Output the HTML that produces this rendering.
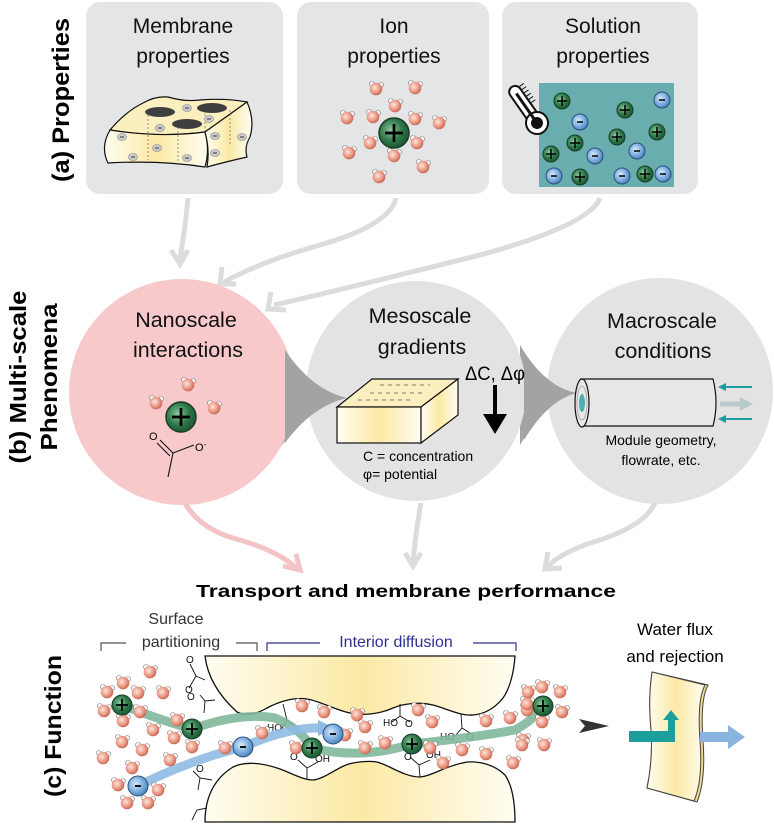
<!DOCTYPE html>
<html><head><meta charset="utf-8"><style>
html,body{margin:0;padding:0;background:#fff;}
svg{display:block;font-family:"Liberation Sans",sans-serif;}
</style></head><body>
<svg width="774" height="827" viewBox="0 0 774 827" xmlns="http://www.w3.org/2000/svg">
<defs>
<radialGradient id="gc" cx="0.4" cy="0.4" r="0.6"><stop offset="0" stop-color="#8fc9a3"/><stop offset="0.6" stop-color="#2f7a4a"/><stop offset="1" stop-color="#1d5a34"/></radialGradient>
<radialGradient id="bc" cx="0.4" cy="0.4" r="0.6"><stop offset="0" stop-color="#d8eafa"/><stop offset="0.6" stop-color="#7fb0e0"/><stop offset="1" stop-color="#4f86c0"/></radialGradient>
<radialGradient id="wc" cx="0.4" cy="0.4" r="0.6"><stop offset="0" stop-color="#fde6de"/><stop offset="0.7" stop-color="#e8917c"/><stop offset="1" stop-color="#c86a58"/></radialGradient>
<linearGradient id="yg" x1="0" x2="1" y1="0" y2="0"><stop offset="0" stop-color="#fffdf2"/><stop offset="0.5" stop-color="#fbe9a4"/><stop offset="1" stop-color="#fffdf2"/></linearGradient>
<g id="w"><circle cx="-4" cy="-5" r="2.5" fill="#fff" stroke="#777" stroke-width="0.6"/><circle cx="5" cy="-4" r="2.5" fill="#fff" stroke="#777" stroke-width="0.6"/><circle r="6.3" fill="url(#wc)"/></g>
<g id="cp"><circle r="10" fill="url(#gc)" stroke="#1a3d26" stroke-width="1"/><path d="M-6 0H6M0 -6V6" stroke="#000" stroke-width="1.8"/></g>
<g id="cs"><circle r="8" fill="url(#gc)" stroke="#1a3d26" stroke-width="1"/><path d="M-5 0H5M0 -5V5" stroke="#000" stroke-width="1.5"/></g>
<g id="an"><circle r="10" fill="url(#bc)" stroke="#2b4f7a" stroke-width="1"/><path d="M-3 0H3" stroke="#000" stroke-width="1.8"/></g>
<g id="as"><circle r="8" fill="url(#bc)" stroke="#2b4f7a" stroke-width="1"/><path d="M-3 0H3" stroke="#000" stroke-width="1.5"/></g>
<g id="mm"><ellipse rx="4.5" ry="3.5" fill="#ccc" stroke="#888" stroke-width="0.6"/><path d="M-2 0H2" stroke="#333" stroke-width="1"/></g>
</defs>

<!-- (a) -->
<text transform="translate(69,100) rotate(-90)" text-anchor="middle" font-weight="bold" font-size="24" textLength="164" lengthAdjust="spacingAndGlyphs">(a) Properties</text>
<rect x="86" y="2" width="197" height="192" rx="14" fill="#e4e5e7"/>
<rect x="297" y="2" width="192" height="192" rx="14" fill="#e4e5e7"/>
<rect x="502" y="2" width="196" height="192" rx="14" fill="#e4e5e7"/>
<g font-size="21" text-anchor="middle" fill="#111">
<text x="183" y="33">Membrane</text><text x="183" y="63">properties</text>
<text x="394" y="33">Ion</text><text x="394" y="63">properties</text>
<text x="603" y="33">Solution</text><text x="603" y="63">properties</text>
</g>
<!-- membrane block -->
<g stroke="#111" stroke-width="1.2" fill="url(#yg)">
<path d="M110 130 Q125 112 143 103 Q155 96 168 97 Q185 102 200 100 Q225 98 247 102 L205 132 Q160 138 110 130Z" fill="#fbefbf"/>
<path d="M110 130 Q160 138 205 132 Q210 150 205 167 Q160 160 108 163 Q100 147 110 130Z"/>
<path d="M205 132 L247 102 Q255 120 250 137 Q244 147 247 157 Q225 162 207 167 Q210 150 205 132Z"/>
</g>
<g stroke="#555" stroke-width="0.6" stroke-dasharray="2 2"><path d="M148 115V160M178 127V165M205 110V132M230 110V145"/></g>
<ellipse cx="160" cy="112" rx="15" ry="5" fill="#3f3f3f"/><ellipse cx="212" cy="108" rx="15" ry="5" fill="#3f3f3f"/><ellipse cx="187" cy="124" rx="15" ry="5" fill="#3f3f3f"/>
<use href="#mm" x="187" y="108"/><use href="#mm" x="209" y="119"/><use href="#mm" x="160" y="128"/><use href="#mm" x="122" y="137"/><use href="#mm" x="157" y="148"/><use href="#mm" x="133" y="157"/><use href="#mm" x="187" y="158"/><use href="#mm" x="215" y="136"/><use href="#mm" x="242" y="137"/><use href="#mm" x="215" y="153"/>
<!-- ion cluster -->
<g>
<use href="#w" x="376" y="89"/><use href="#w" x="415" y="88"/><use href="#w" x="395" y="106"/><use href="#w" x="347" y="118"/><use href="#w" x="373" y="117"/><use href="#w" x="415" y="119"/><use href="#w" x="439" y="123"/><use href="#w" x="370" y="143"/><use href="#w" x="417" y="143"/><use href="#w" x="349" y="153"/><use href="#w" x="394" y="156"/><use href="#w" x="423" y="167"/><use href="#w" x="379" y="177"/>
<g transform="translate(394,133) scale(1.5)"><use href="#cp"/></g>
</g>
<!-- solution -->
<rect x="539" y="83" width="135" height="104" fill="#6aadae"/>
<g transform="translate(537,123) rotate(-35)">
<rect x="-6" y="-44" width="12" height="40" rx="6" fill="#fff" stroke="#111" stroke-width="2"/>
<circle r="11" fill="#fff" stroke="#111" stroke-width="2"/><circle r="6" fill="#111"/><rect x="-1.5" y="-36" width="3" height="32" fill="#111"/>
<path d="M7 -40h5M7 -36h5M7 -32h5M7 -28h5M7 -24h5M7 -20h5" stroke="#111" stroke-width="1"/>
</g>
<use href="#cs" x="562" y="101"/><use href="#cs" x="625" y="110"/><use href="#cs" x="575" y="143"/><use href="#cs" x="617" y="137"/><use href="#cs" x="657" y="132"/><use href="#cs" x="551" y="154"/><use href="#cs" x="580" y="177"/><use href="#cs" x="645" y="174"/>
<use href="#as" x="580" y="122"/><use href="#as" x="662" y="100"/><use href="#as" x="595" y="156"/><use href="#as" x="637" y="151"/><use href="#as" x="554" y="176"/><use href="#as" x="622" y="176"/><use href="#as" x="663" y="174"/>

<!-- arrows a->b -->
<g fill="none" stroke="#dcdcdc" stroke-width="5">
<path d="M188 198 Q185 230 180 258"/>
<path d="M396 198 Q390 225 320 245 Q260 262 224 282"/>
<path d="M600 198 Q590 225 480 255 Q340 290 274 305"/>
</g>
<g fill="none" stroke="#dcdcdc" stroke-width="5" stroke-linejoin="miter">
<path d="M171 250 L180 264 L188 250"/>
<path d="M222 267 L220 284 L236 284"/>
<path d="M271 292 L268 309 L286 310"/>
</g>

<!-- (b) -->
<text transform="translate(26,377) rotate(-90)" text-anchor="middle" font-weight="bold" font-size="23" textLength="173" lengthAdjust="spacingAndGlyphs">(b) Multi-scale</text>
<text transform="translate(57,377) rotate(-90)" text-anchor="middle" font-weight="bold" font-size="23" textLength="147" lengthAdjust="spacingAndGlyphs">Phenomena</text>
<path d="M280 345 Q310 390 347 398 Q310 405 280 448Z" fill="#a3a3a3"/>
<path d="M520 345 Q545 388 577 393 Q545 400 520 445Z" fill="#a3a3a3"/>
<circle cx="182" cy="392" r="113" fill="#f7c9cb"/>
<circle cx="416" cy="391" r="110" fill="#e3e3e4"/>
<circle cx="660" cy="391" r="113" fill="#e3e3e4"/>
<path d="M285 350 Q312 390 347 398 Q312 406 285 443" fill="#a3a3a3"/>
<path d="M524 352 Q548 388 577 393 Q548 400 524 440" fill="#a3a3a3"/>
<g font-size="21.5" text-anchor="middle" fill="#111">
<text x="186" y="327">Nanoscale</text><text x="188" y="357">interactions</text>
<text x="420" y="323">Mesoscale</text><text x="422" y="354">gradients</text>
<text x="662" y="328">Macroscale</text><text x="663" y="358">conditions</text>
</g>
<!-- nano -->
<use href="#w" x="188" y="385"/><use href="#w" x="156" y="403"/><use href="#w" x="214" y="408"/>
<g transform="translate(181,417) scale(1.5)"><use href="#cp"/></g>
<path d="M168 477 L173 453 L194 445 M173 453 L160 440 M170 456 L157 443" stroke="#111" stroke-width="1.1" fill="none"/>
<text x="149" y="440" font-size="11">O</text><text x="195" y="451" font-size="11">O<tspan dy="-4" font-size="8">-</tspan></text>
<!-- meso box -->
<path d="M337 407 L372 379 L458 379 L421 407Z" fill="#fbefbf" stroke="#111" stroke-width="1.2"/>
<rect x="337" y="407" width="84" height="36" fill="url(#yg)" stroke="#111" stroke-width="1.2"/>
<path d="M421 407 L458 379 L458 415 L421 443Z" fill="url(#yg)" stroke="#111" stroke-width="1.2"/>
<path d="M380 385h50M370 393h55M358 400h55" stroke="#555" stroke-width="0.8" stroke-dasharray="4 4"/>
<text x="465" y="380" font-size="19" textLength="60" lengthAdjust="spacingAndGlyphs">ΔC, Δφ</text>
<path d="M495 385V418" stroke="#000" stroke-width="4"/><path d="M483 414 L507 414 L495 434Z" fill="#000"/>
<text x="363" y="461" font-size="14">C = concentration</text>
<text x="363" y="479" font-size="14">φ= potential</text>
<!-- macro cylinder -->
<path d="M580 379 L713 379 Q719 403 713 426 L580 426" fill="#e8e8e8" stroke="#111" stroke-width="1.2"/>
<ellipse cx="582" cy="403" rx="7" ry="24" fill="#e8e8e8" stroke="#111" stroke-width="1.2"/>
<ellipse cx="582" cy="403" rx="5" ry="17" fill="none" stroke="#888" stroke-width="0.6"/>
<ellipse cx="582" cy="403" rx="3" ry="9" fill="#4bb0b0"/>
<path d="M752 387H722M752 419H722" stroke="#1c9e9c" stroke-width="2"/>
<path d="M726 383 L718 387 L726 391Z M726 415 L718 419 L726 423Z" fill="#1c9e9c"/>
<path d="M720 404H742" stroke="#b9c9cc" stroke-width="5"/><path d="M740 397 L753 404 L740 411Z" fill="#b9c9cc"/>
<text x="661" y="445" font-size="14" text-anchor="middle">Module geometry,</text>
<text x="661" y="465" font-size="14" text-anchor="middle">flowrate, etc.</text>

<!-- arrows b->c -->
<path d="M185 503 Q200 530 240 540 Q280 552 296 568" fill="none" stroke="#f4c3c5" stroke-width="5"/>
<path d="M283 566 L300 570 L296 554" fill="none" stroke="#f4c3c5" stroke-width="5"/>
<g fill="none" stroke="#dcdcdc" stroke-width="5">
<path d="M421 503 Q416 530 413 562"/><path d="M405 553 L413 566 L421 553"/>
<path d="M655 503 Q645 525 600 540 Q565 550 548 566"/><path d="M548 552 L545 569 L562 568"/>
</g>
<text x="406" y="597" font-size="17.5" font-weight="bold" text-anchor="middle" textLength="420" lengthAdjust="spacingAndGlyphs">Transport and membrane performance</text>

<!-- (c) -->
<text transform="translate(61,726) rotate(-90)" text-anchor="middle" font-weight="bold" font-size="23" textLength="142" lengthAdjust="spacingAndGlyphs">(c) Function</text>
<g font-size="16" text-anchor="middle">
<text x="176" y="624" fill="#333">Surface</text>
<text x="181" y="647" fill="#333">partitioning</text>
<text x="396" y="647" fill="#2e3192">Interior diffusion</text>
</g>
<path d="M101 651V643H126M236 643H257V651" fill="none" stroke="#555" stroke-width="1.2"/>
<path d="M267 651V643H320M473 643H516V651" fill="none" stroke="#2e3192" stroke-width="1.2"/>
<!-- membrane blocks -->
<path d="M205 656 C207 673 215 692 237 712 C245 716 255 715 267 708 C280 701 295 697 307 699 C320 701 335 710 350 713 C362 716 380 714 393 708 C405 703 420 702 433 705 C445 708 460 716 473 715 C485 714 495 708 503 698 C510 688 514 672 515 656Z" fill="url(#yg)" stroke="#111" stroke-width="1.3"/>
<path d="M205 822 C205 800 212 780 233 767 C245 761 262 763 277 768 C290 772 302 780 313 780 C325 779 340 765 353 763 C365 761 375 761 380 763 C390 766 405 777 420 777 C432 776 445 766 467 762 C480 761 495 765 505 775 C512 785 515 800 515 822Z" fill="url(#yg)" stroke="#111" stroke-width="1.3"/>
<!-- COOH groups -->
<g stroke="#111" stroke-width="0.9" fill="none">
<path d="M205 680 L196 676 M196 676 L190 664 M196 676 L189 688"/>
<path d="M215 700 L205 701 L200 695 M205 701 L204 713"/>
<path d="M212 780 L200 778 L193 771 M200 778 L198 790"/>
<path d="M207 808 L197 810 L192 820"/>
<path d="M283 704 L287 720 L281 730 M287 720 L296 728"/>
<path d="M307 780 L307 768 L298 760 M307 768 L318 762"/>
<path d="M400 704 L400 716 L392 722 M400 716 L410 722"/>
<path d="M420 777 L419 765 L410 757 M419 765 L430 760"/>
<path d="M461 714 L462 728 L455 736 M462 728 L470 733"/>
</g>
<g font-size="10" fill="#111"><text x="186" y="663">O</text><text x="185" y="693">O</text><text x="187" y="700">O</text><text x="196" y="772">O</text><text x="267" y="731">HO</text><text x="291" y="733">O</text><text x="290" y="760">O</text><text x="315" y="762">OH</text><text x="383" y="726">HO</text><text x="405" y="727">O</text><text x="404" y="760">O</text><text x="426" y="758">OH</text><text x="440" y="740">HO</text><text x="466" y="740">O</text></g>
<!-- transport arrows -->
<path d="M122 705 Q160 720 192 729 Q240 712 275 718 Q300 728 312 748 Q360 760 412 744 Q470 738 515 730 Q530 722 538 712" fill="none" stroke="#7fb89b" stroke-width="9" stroke-linecap="round" opacity="0.9"/>
<path d="M530 704 L548 704 L540 720Z" fill="#7fb89b"/>
<path d="M138 786 Q190 760 243 747 Q290 726 325 728" fill="none" stroke="#8fbbe4" stroke-width="9" opacity="0.9"/>
<path d="M318 720 L335 728 L318 736Z" fill="#8fbbe4"/>
<!-- waters -->
<g>
<use href="#w" x="150" y="672"/><use href="#w" x="123" y="683"/><use href="#w" x="107" y="692"/><use href="#w" x="138" y="693"/><use href="#w" x="163" y="693"/><use href="#w" x="104" y="711"/><use href="#w" x="140" y="712"/><use href="#w" x="123" y="721"/><use href="#w" x="153" y="730"/><use href="#w" x="177" y="720"/><use href="#w" x="174" y="738"/><use href="#w" x="122" y="742"/><use href="#w" x="142" y="750"/><use href="#w" x="103" y="758"/><use href="#w" x="170" y="760"/><use href="#w" x="192" y="747"/><use href="#w" x="132" y="768"/><use href="#w" x="118" y="785"/><use href="#w" x="158" y="790"/><use href="#w" x="127" y="803"/><use href="#w" x="148" y="803"/>
<use href="#w" x="225" y="748"/><use href="#w" x="262" y="733"/><use href="#w" x="302" y="706"/><use href="#w" x="324" y="712"/><use href="#w" x="296" y="748"/><use href="#w" x="345" y="735"/><use href="#w" x="365" y="727"/><use href="#w" x="365" y="748"/><use href="#w" x="385" y="743"/><use href="#w" x="357" y="715"/><use href="#w" x="418" y="710"/><use href="#w" x="432" y="722"/><use href="#w" x="430" y="748"/><use href="#w" x="443" y="763"/><use href="#w" x="486" y="721"/><use href="#w" x="462" y="750"/><use href="#w" x="486" y="754"/><use href="#w" x="510" y="718"/><use href="#w" x="523" y="740"/><use href="#w" x="527" y="710"/><use href="#w" x="513" y="763"/><use href="#w" x="542" y="687"/><use href="#w" x="528" y="692"/><use href="#w" x="560" y="692"/><use href="#w" x="527" y="704"/><use href="#w" x="562" y="712"/><use href="#w" x="542" y="722"/><use href="#w" x="522" y="745"/><use href="#w" x="544" y="745"/>
</g>
<use href="#cp" x="122" y="705"/><use href="#cp" x="192" y="729"/><use href="#cp" x="312" y="748"/><use href="#cp" x="412" y="744"/><use href="#cp" x="543" y="706"/>
<use href="#an" x="138" y="786"/><use href="#an" x="243" y="747"/><use href="#an" x="333" y="734"/>
<!-- right side -->
<path d="M579 719 L609 726 L579 733 L585 726Z" fill="#333"/>
<text x="675" y="635" font-size="17" text-anchor="middle">Water flux</text>
<text x="675" y="662" font-size="17" text-anchor="middle">and rejection</text>
<path d="M652 672 L708 685 Q700 700 703 740 Q706 780 697 802 L647 788 Q653 760 651 730 Q648 700 652 672Z" fill="#f0d890" stroke="#444" stroke-width="1"/>
<path d="M652 672 L705 685 Q697 700 700 740 Q703 780 694 801 L647 788 Q653 760 651 730 Q648 700 652 672Z" fill="url(#yg)" stroke="#444" stroke-width="1"/>
<path d="M629 731H668V720L663 720 L671 710 L679 720 L675 720V742H629Z" fill="#1c9e9c"/>
<path d="M700 732H728V725L745 737L728 749V742H700Z" fill="#8ab4e0"/>
</svg>
</body></html>
